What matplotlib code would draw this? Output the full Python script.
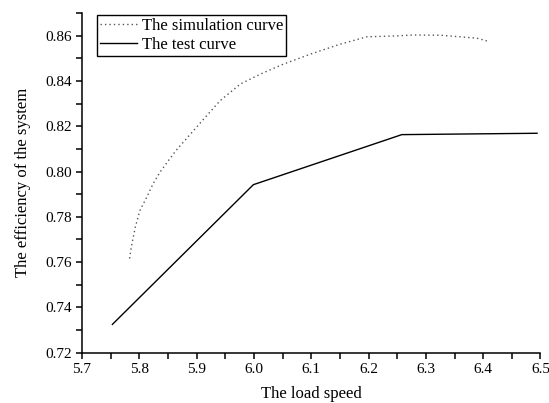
import numpy as np
import matplotlib.pyplot as plt
from matplotlib.ticker import MultipleLocator

# simulation curve
sim_speed = [5.783, 5.786, 5.793, 5.801, 5.813, 5.824, 5.836, 5.851, 5.864,
             5.911, 5.941, 5.976, 6.011, 6.051, 6.098, 6.150, 6.197, 6.249,
             6.278, 6.325, 6.359, 6.389, 6.410]
sim_eff = [0.7616, 0.7667, 0.7755, 0.7828, 0.7887, 0.7946, 0.7997, 0.8049, 0.8093,
           0.8228, 0.8313, 0.8386, 0.8430, 0.8474, 0.8518, 0.8562, 0.8595, 0.8599,
           0.8603, 0.8602, 0.8595, 0.8589, 0.8574]

# test curve
test_speed = [5.753, 5.999, 6.258, 6.494]
test_eff = [0.7325, 0.7942, 0.8163, 0.8169]

plt.rcParams['font.family'] = ['Liberation Serif', 'DejaVu Serif']

fig = plt.figure(figsize=(5.49, 4.03), dpi=100)
ax = fig.add_axes([0.1494, 0.1248, 0.8351, 0.8429])

ax.plot(sim_speed, sim_eff, color="#555555", linestyle=(0, (1, 2.2)), linewidth=1.0,
        label="The simulation curve")
ax.plot(test_speed, test_eff, color="black", linestyle="-", linewidth=1.0,
        label="The test curve")

ax.set_xlim(5.7, 6.5)
ax.set_ylim(0.72, 0.87)
ax.xaxis.set_major_locator(MultipleLocator(0.1))
ax.xaxis.set_minor_locator(MultipleLocator(0.05))
ax.yaxis.set_major_locator(MultipleLocator(0.02))
ax.yaxis.set_minor_locator(MultipleLocator(0.01))
ax.xaxis.set_major_formatter(plt.FormatStrFormatter("%.1f"))
ax.yaxis.set_major_formatter(plt.FormatStrFormatter("%.2f"))

for side in ["top", "right"]:
  ax.spines[side].set_visible(False)
for side in ["left", "bottom"]:
  ax.spines[side].set_linewidth(1.1)

ax.tick_params(which="both", direction="out", width=1.1, labelsize=11)
ax.tick_params(which="major", length=4)
ax.tick_params(which="minor", length=4)

ax.set_xlabel("The load speed", fontsize=12, labelpad=7)
ax.set_ylabel("The efficiency of the system", fontsize=12, labelpad=10)

leg = ax.legend(loc="upper left", bbox_to_anchor=(0.032, 0.995), borderaxespad=0,
                fontsize=12, handlelength=2.2, handletextpad=0.3, labelspacing=0.15,
                borderpad=0.2, fancybox=False, framealpha=1)
leg.get_frame().set_edgecolor("black")
leg.get_frame().set_linewidth(1.0)

plt.savefig("out.png")
